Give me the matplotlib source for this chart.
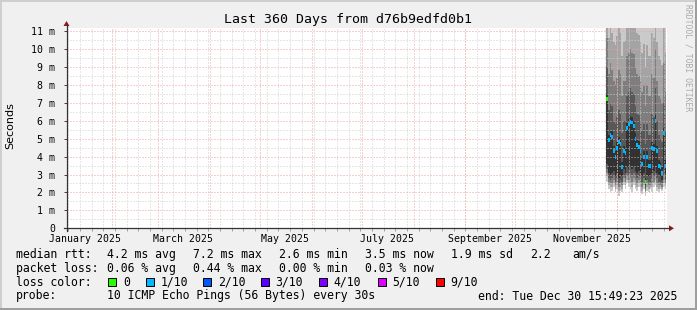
import matplotlib
matplotlib.use("Agg")
import matplotlib.pyplot as plt
import matplotlib.dates as mdates
from matplotlib.patches import Rectangle, Polygon
from matplotlib.lines import Line2D
import datetime as dt

# ---------------- data ----------------
title = "Last 360 Days from d76b9edfd0b1"
ylabel = "Seconds"
x_start = dt.datetime(2025, 1, 4, 21, 49, 23)
x_end = dt.datetime(2025, 12, 30, 21, 49, 23)
y_max = 11.17  # ms

y_ticks = [0, 1, 2, 3, 4, 5, 6, 7, 8, 9, 10, 11]
y_tick_labels = ["0", "1 m", "2 m", "3 m", "4 m", "5 m", "6 m", "7 m", "8 m", "9 m", "10 m", "11 m"]
month_labels = ["January 2025", "March 2025", "May 2025", "July 2025", "September 2025", "November 2025"]
month_label_dates = [dt.datetime(2025, m, 16) for m in (1, 3, 5, 7, 9, 11)]

data_start = dt.datetime(2025, 11, 24, 13, 0)
n_days = 36
day_dates = [data_start + dt.timedelta(days=i) for i in range(n_days)]

# sorted ping values per day (ms)
ping1 = [2.6, 2.2, 2.0, 2.1, 2.3, 2.0, 2.2, 1.8, 2.1, 2.0, 2.4, 2.2, 2.5, 2.3, 2.2, 2.0, 2.4, 2.2, 2.1, 2.3, 2.0, 1.9, 2.2, 1.8, 2.1, 2.0, 2.2, 2.0, 2.3, 2.4, 2.1, 2.0, 2.2, 2.1, 2.3, 2.2]
ping2 = [2.9, 2.4, 2.3, 2.3, 2.5, 2.2, 2.4, 2.1, 2.3, 2.2, 2.6, 2.4, 2.7, 2.5, 2.5, 2.3, 2.6, 2.4, 2.3, 2.5, 2.3, 2.1, 2.4, 2.0, 2.3, 2.2, 2.3, 2.3, 2.5, 2.7, 2.3, 2.2, 2.3, 2.2, 2.5, 2.4]
ping3 = [3.1, 2.6, 2.5, 2.5, 2.7, 2.4, 2.6, 2.3, 2.5, 2.4, 2.8, 2.6, 2.9, 2.7, 2.8, 2.6, 2.8, 2.7, 2.5, 2.7, 2.5, 2.3, 2.5, 2.1, 2.5, 2.4, 2.4, 2.5, 2.6, 2.9, 2.5, 2.4, 2.4, 2.3, 2.7, 2.5]
ping4 = [3.3, 2.8, 2.7, 2.8, 2.9, 2.6, 2.8, 2.5, 2.7, 2.6, 3.0, 2.8, 3.1, 3.0, 3.1, 3.0, 3.1, 2.9, 2.8, 2.9, 2.8, 2.6, 2.8, 2.2, 2.7, 2.6, 2.6, 2.8, 2.9, 3.1, 2.8, 2.6, 2.6, 2.5, 3.0, 2.7]
ping5 = [3.6, 3.1, 3.0, 3.1, 3.2, 2.9, 3.1, 2.8, 3.0, 2.9, 3.3, 3.1, 3.4, 3.3, 3.5, 3.3, 3.4, 3.2, 3.1, 3.2, 3.1, 2.9, 3.1, 2.4, 3.0, 2.9, 2.9, 3.1, 3.2, 3.5, 3.1, 2.9, 2.9, 2.7, 3.3, 3.0]
ping6 = [7.5, 5.2, 5.5, 5.4, 4.6, 4.3, 4.8, 5.1, 5.0, 3.7, 4.6, 4.5, 5.9, 6.1, 6.25, 6.2, 6.0, 5.3, 4.95, 4.85, 4.6, 3.9, 4.3, 2.8, 4.3, 3.8, 3.8, 4.8, 4.7, 6.3, 4.6, 3.8, 3.7, 3.4, 5.6, 3.8]
ping7 = [9.0, 6.6, 7.0, 6.8, 6.0, 5.8, 6.2, 6.6, 6.4, 5.3, 6.0, 6.0, 7.4, 7.6, 7.8, 7.6, 7.5, 6.8, 6.4, 6.3, 6.0, 5.4, 5.8, 4.7, 5.8, 5.2, 5.2, 6.4, 6.2, 7.8, 6.0, 5.2, 5.0, 4.8, 7.0, 5.4]
ping8 = [10.6, 8.6, 9.2, 8.8, 8.2, 8.0, 8.4, 8.8, 8.6, 7.4, 8.2, 8.2, 9.6, 9.8, 10.0, 9.8, 9.7, 9.0, 8.6, 8.5, 8.2, 7.6, 8.0, 6.8, 8.0, 7.4, 7.4, 8.6, 8.4, 10.0, 8.2, 7.4, 7.2, 7.0, 9.2, 7.6]
ping9 = [12.0, 10.6, 11.4, 10.9, 10.4, 10.2, 10.7, 11.2, 10.9, 9.6, 10.4, 10.5, 12.0, 12.0, 12.0, 12.0, 11.9, 11.3, 10.9, 10.8, 10.4, 9.8, 10.3, 9.0, 10.2, 9.6, 9.6, 10.9, 10.6, 12.0, 10.4, 9.6, 9.4, 9.1, 11.5, 9.8]
ping10 = [12.0, 12.0, 12.0, 12.0, 12.0, 12.0, 12.0, 12.0, 12.0, 12.0, 12.0, 12.0, 12.0, 12.0, 12.0, 12.0, 12.0, 12.0, 12.0, 12.0, 12.0, 12.0, 12.0, 12.0, 12.0, 12.0, 12.0, 12.0, 12.0, 12.0, 12.0, 12.0, 12.0, 12.0, 12.0, 12.0]
median = [7.2, 4.9, 5.2, 5.1, 4.3, 4.0, 4.5, 4.8, 4.7, 3.4, 4.3, 4.2, 5.6, 5.8, 5.95, 5.9, 5.7, 5.0, 4.65, 4.55, 4.3, 3.6, 4.0, 2.6, 4.0, 3.5, 3.5, 4.5, 4.4, 6.0, 4.3, 3.5, 3.4, 3.1, 5.3, 3.5]
loss_class = [0, 1, 1, 1, 1, 1, 1, 1, 1, 1, 1, 1, 1, 1, 1, 1, 1, 1, 1, 1, 1, 1, 1, 0, 1, 1, 1, 1, 1, 1, 1, 1, 1, 1, 1, 1]

loss_names = ["0", "1/10", "2/10", "3/10", "4/10", "5/10", "9/10"]
loss_colors = ["#26ff00", "#00b8ff", "#0059ff", "#5e00ff", "#7e00ff", "#dd00ff", "#ff0000"]

rtt_stats = ["4.2 ms avg", "7.2 ms max", "2.6 ms min", "3.5 ms now", "1.9 ms sd", "2.2", "am/s"]
loss_stats = ["0.06 % avg", "0.44 % max", "0.00 % min", "0.03 % now"]
probe_text = "10 ICMP Echo Pings (56 Bytes) every 30s"
end_text = "end: Tue Dec 30 15:49:23 2025"
watermark = "RRDTOOL / TOBI OETIKER"

# ---------------- figure ----------------
W, H = 697, 310
BACK = "#f0f0f0"
fig = plt.figure(figsize=(W / 100, H / 100), dpi=100, facecolor=BACK)

L, R, T, B = 66.5, 667.0, 28.0, 228.3
ax = fig.add_axes([L / W, 1 - B / H, (R - L) / W, (B - T) / H])
ax.set_facecolor("white")
ax.set_xlim(mdates.date2num(x_start), mdates.date2num(x_end))
ax.set_ylim(0, y_max)
for s in ax.spines.values():
    s.set_visible(False)

# smoke
shades = ["#cacaca", "#a4a4a4", "#7e7e7e", "#585858", "#323232"]
lows = [ping1, ping2, ping3, ping4, ping5]
highs = [ping10, ping9, ping8, ping7, ping6]
xd = mdates.date2num(day_dates)
for lo, hi, c in zip(lows, highs, shades):
    ax.bar(xd, [h - l for h, l in zip(hi, lo)], bottom=lo, width=1.0, align="edge",
           color=c, linewidth=0, antialiased=False, zorder=2)
# median marks
med_h = 0.22
for x, m, lc in zip(xd, median, loss_class):
    ax.bar([x], [med_h], bottom=m - med_h / 2, width=1.0, align="edge",
           color=loss_colors[lc], linewidth=0, antialiased=True, zorder=4)

# grid (on top of data like rrdtool)
grid_c = "#cfcfcf"
mgrid_c = "#f2a0a0"
ls = (0, (1, 2))
d = dt.datetime(2025, 1, 6)
while d < x_end:
    if d > x_start:
        ax.axvline(mdates.date2num(d), color=grid_c, lw=0.72, ls=ls, zorder=3)
    d += dt.timedelta(days=7)
for m in range(2, 13):
    ax.axvline(mdates.date2num(dt.datetime(2025, m, 1)), color=mgrid_c, lw=0.72, ls=ls, zorder=3)
for v in [i * 0.5 for i in range(1, 23)]:
    if v != int(v):
        ax.axhline(v, color=grid_c, lw=0.72, ls=ls, zorder=3)
for v in y_ticks[1:]:
    ax.axhline(v, color=mgrid_c, lw=0.72, ls=ls, zorder=3)

mono = "DejaVu Sans Mono"
ax.set_yticks(y_ticks)
ax.set_yticklabels(y_tick_labels, family=mono, fontsize=7.1)
ax.tick_params(axis="y", length=2, width=0.7, color="#404040", pad=6)
ax.set_xticks(mdates.date2num(month_label_dates))
ax.set_xticklabels(month_labels, family=mono, fontsize=7.1)
ax.tick_params(axis="x", length=0, pad=4)
wk = []
d = dt.datetime(2025, 1, 6)
while d < x_end:
    wk.append(mdates.date2num(d))
    d += dt.timedelta(days=7)
ax.set_xticks(wk, minor=True)
ax.tick_params(axis="x", which="minor", length=2, width=0.7, color="#a0a0a0")

# ---------------- overlay in pixel coordinates ----------------
ov = fig.add_axes([0, 0, 1, 1], zorder=5)
ov.set_xlim(0, W)
ov.set_ylim(H, 0)
ov.axis("off")
ov.patch.set_alpha(0)

# frame
ov.add_patch(Rectangle((0, 0), W, 2, color="#cfcfcf", lw=0))
ov.add_patch(Rectangle((0, 0), 2, H, color="#cfcfcf", lw=0))
ov.add_patch(Rectangle((0, H - 2), W, 2, color="#9e9e9e", lw=0))
ov.add_patch(Rectangle((W - 2, 0), 2, H, color="#9e9e9e", lw=0))

# axes with arrows
axis_c = "#333333"
ov.add_line(Line2D([L - 3, 670], [B, B], color=axis_c, lw=0.9))
ov.add_line(Line2D([L, L], [B + 3, 25], color=axis_c, lw=0.9))
arrow_c = "#8b1a1a"
ov.add_patch(Polygon([[669, B - 3], [674, B], [669, B + 3]], closed=True, color=arrow_c, lw=0))
ov.add_patch(Polygon([[L - 3, 26], [L, 21], [L + 3, 26]], closed=True, color=arrow_c, lw=0))

ov.text(348.5, 19.5, title, family=mono, fontsize=9.5, ha="center", va="center")
ov.text(10, 126, ylabel, family="DejaVu Sans", fontsize=8, rotation=90, ha="center", va="center")
ov.text(688, 4, watermark, family=mono, fontsize=5.8, rotation=-90, ha="center", va="top", color="#aaaaaa")

fs = 8.3
rows_y = [254.3, 268.3, 282.3, 296.0]
ov.text(16, rows_y[0], "median rtt:", family=mono, fontsize=fs, va="center")
for x, s in zip([107.3, 193.3, 279.3, 365, 451, 530, 572.3], rtt_stats):
    ov.text(x, rows_y[0], s, family=mono, fontsize=fs, va="center")
ov.text(16, rows_y[1], "packet loss:", family=mono, fontsize=fs, va="center")
for x, s in zip([107.3, 193.3, 279.3, 365], loss_stats):
    ov.text(x, rows_y[1], s, family=mono, fontsize=fs, va="center")
ov.text(16, rows_y[2], "loss color:", family=mono, fontsize=fs, va="center")
sw_x = [108.3, 145.7, 203.3, 261, 319.3, 377.7, 435.7]
for x, name, c in zip(sw_x, loss_names, loss_colors):
    ov.add_patch(Rectangle((x, rows_y[2] - 4), 8, 8, facecolor=c, edgecolor="black", lw=0.7))
    ov.text(x + 14.5, rows_y[2], name, family=mono, fontsize=fs, va="center")
ov.text(16, rows_y[3], "probe:", family=mono, fontsize=fs, va="center")
ov.text(107.3, rows_y[3], probe_text, family=mono, fontsize=fs, va="center")
ov.text(478.3, rows_y[3], end_text, family=mono, fontsize=fs, va="center")

fig.savefig("out.png", dpi=100, facecolor=BACK)
